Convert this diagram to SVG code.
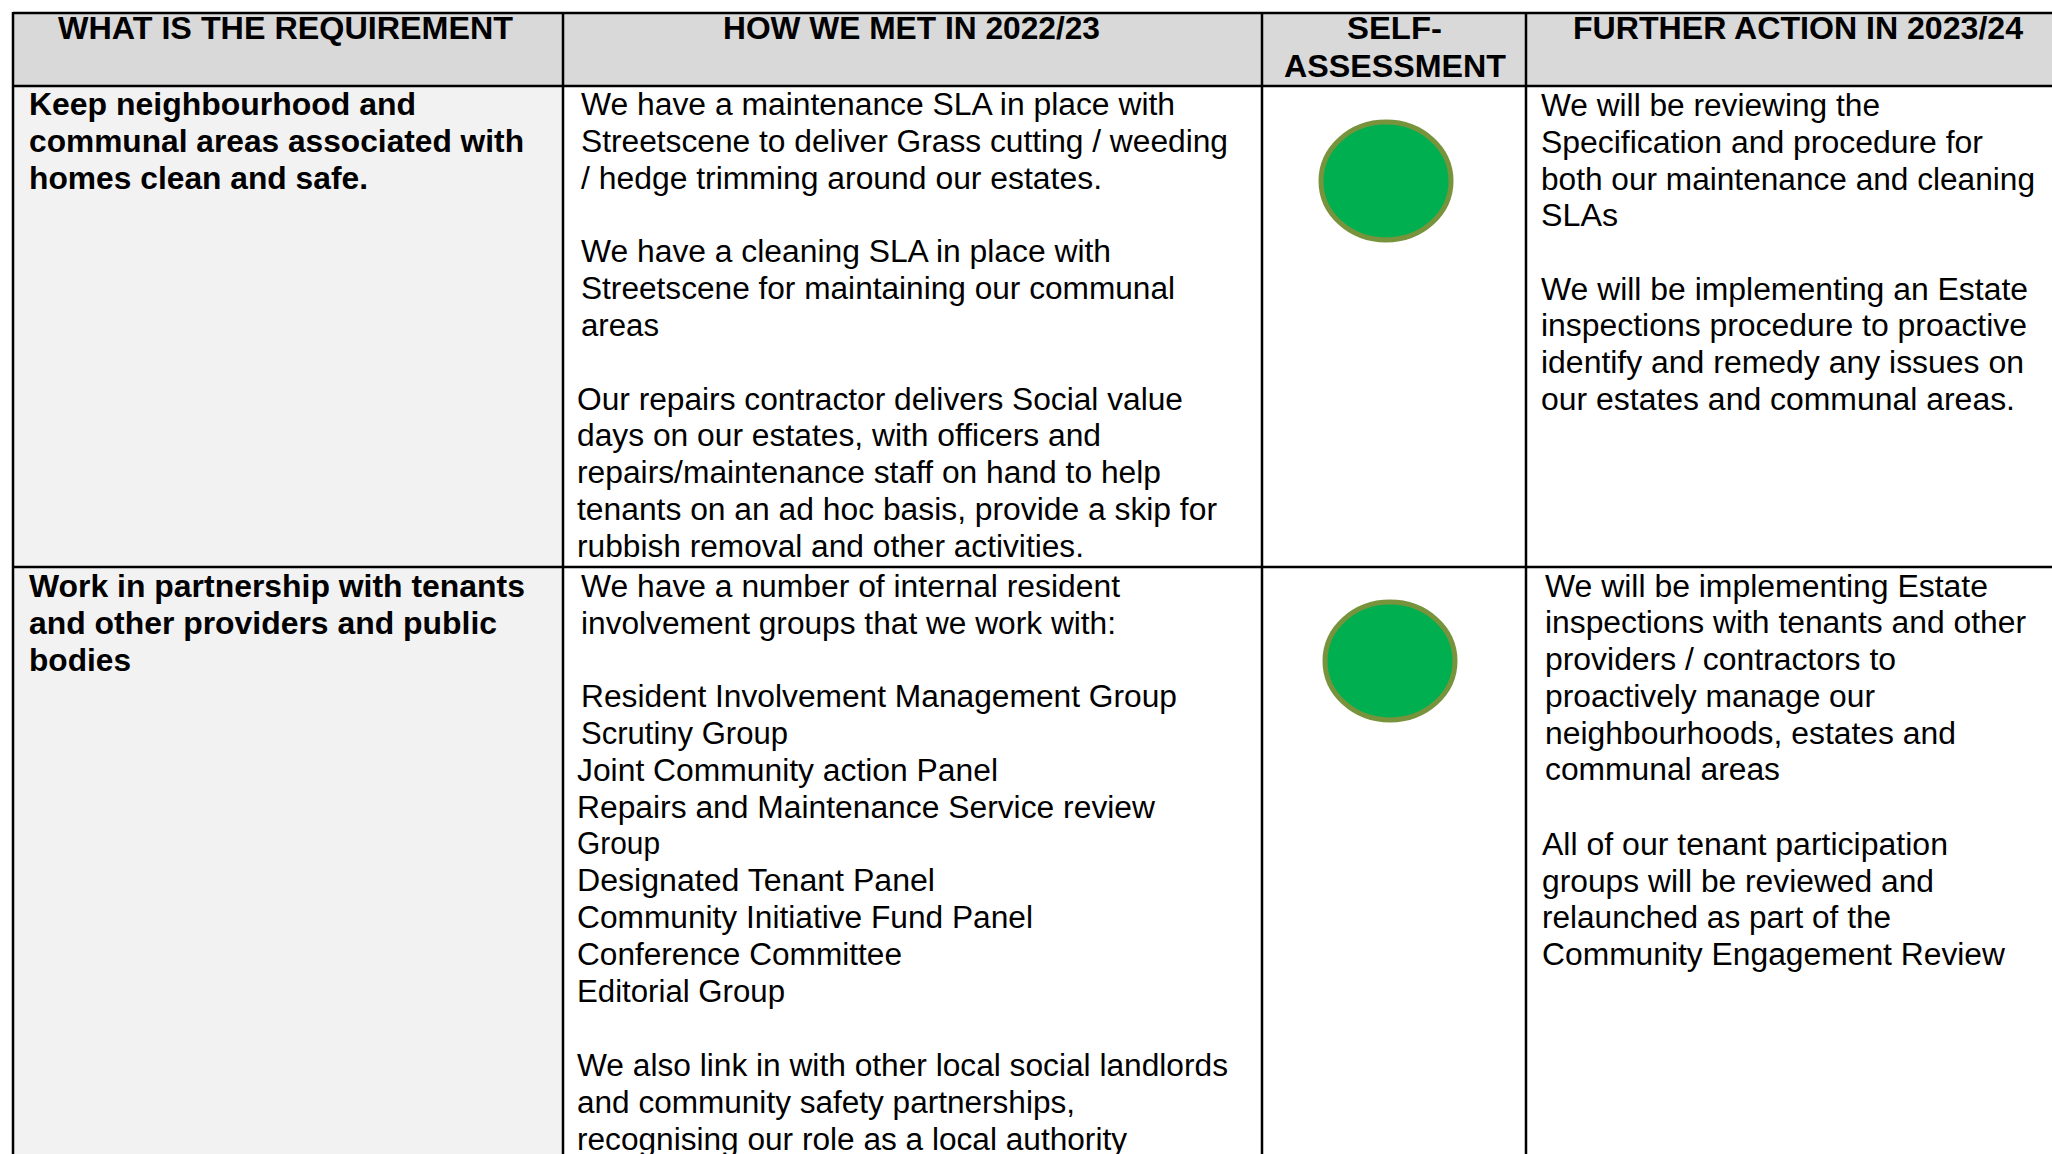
<svg xmlns="http://www.w3.org/2000/svg" width="2052" height="1154" viewBox="0 0 2052 1154">
<style>
text{font-family:"Liberation Sans",Arial,sans-serif;font-size:31px;fill:#000}
.b{font-weight:bold}
.hd{fill:#d9d9d9}
.c1{fill:#f2f2f2}
.ln{stroke:#000;stroke-width:2.5;fill:none}
.dot{fill:#00b050;stroke:#77933c;stroke-width:5}
</style>
<rect width="2052" height="1154" fill="#fff"/>
<g id="header">
<rect class="hd" x="13" y="13" width="2050" height="73"/>
<text class="b" x="58" y="39" textLength="455" lengthAdjust="spacingAndGlyphs">WHAT IS THE REQUIREMENT</text>
<text class="b" x="723" y="39" textLength="377" lengthAdjust="spacingAndGlyphs">HOW WE MET IN 2022/23</text>
<text class="b" x="1347" y="39" textLength="95" lengthAdjust="spacingAndGlyphs">SELF-</text>
<text class="b" x="1284" y="77" textLength="222" lengthAdjust="spacingAndGlyphs">ASSESSMENT</text>
<text class="b" x="1573" y="39" textLength="450" lengthAdjust="spacingAndGlyphs">FURTHER ACTION IN 2023/24</text>
</g>
<g id="col1-bg"><rect class="c1" x="13" y="86" width="550" height="1080"/></g>
<g id="row1">
<g id="row1-requirement">
<text class="b" x="29" y="115" textLength="387" lengthAdjust="spacingAndGlyphs">Keep neighbourhood and</text>
<text class="b" x="29" y="152" textLength="495" lengthAdjust="spacingAndGlyphs">communal areas associated with</text>
<text class="b" x="29" y="189" textLength="339" lengthAdjust="spacingAndGlyphs">homes clean and safe.</text>
</g>
<g id="row1-how">
<text x="581" y="115" textLength="594" lengthAdjust="spacingAndGlyphs">We have a maintenance SLA in place with</text>
<text x="581" y="152" textLength="647" lengthAdjust="spacingAndGlyphs">Streetscene to deliver Grass cutting / weeding</text>
<text x="581" y="189" textLength="521" lengthAdjust="spacingAndGlyphs">/ hedge trimming around our estates.</text>
<text x="581" y="262" textLength="530" lengthAdjust="spacingAndGlyphs">We have a cleaning SLA in place with</text>
<text x="581" y="299" textLength="594" lengthAdjust="spacingAndGlyphs">Streetscene for maintaining our communal</text>
<text x="581" y="336" textLength="78" lengthAdjust="spacingAndGlyphs">areas</text>
<text x="577" y="410" textLength="606" lengthAdjust="spacingAndGlyphs">Our repairs contractor delivers Social value</text>
<text x="577" y="446" textLength="524" lengthAdjust="spacingAndGlyphs">days on our estates, with officers and</text>
<text x="577" y="483" textLength="584" lengthAdjust="spacingAndGlyphs">repairs/maintenance staff on hand to help</text>
<text x="577" y="520" textLength="640" lengthAdjust="spacingAndGlyphs">tenants on an ad hoc basis, provide a skip for</text>
<text x="577" y="557" textLength="507" lengthAdjust="spacingAndGlyphs">rubbish removal and other activities.</text>
</g>
<g id="row1-assessment"><ellipse class="dot" cx="1386" cy="181" rx="65" ry="59"/></g>
<g id="row1-further">
<text x="1541" y="116" textLength="339" lengthAdjust="spacingAndGlyphs">We will be reviewing the</text>
<text x="1541" y="153" textLength="442" lengthAdjust="spacingAndGlyphs">Specification and procedure for</text>
<text x="1541" y="190" textLength="494" lengthAdjust="spacingAndGlyphs">both our maintenance and cleaning</text>
<text x="1541" y="226" textLength="77" lengthAdjust="spacingAndGlyphs">SLAs</text>
<text x="1541" y="300" textLength="487" lengthAdjust="spacingAndGlyphs">We will be implementing an Estate</text>
<text x="1541" y="336" textLength="486" lengthAdjust="spacingAndGlyphs">inspections procedure to proactive</text>
<text x="1541" y="373" textLength="483" lengthAdjust="spacingAndGlyphs">identify and remedy any issues on</text>
<text x="1541" y="410" textLength="474" lengthAdjust="spacingAndGlyphs">our estates and communal areas.</text>
</g>
</g>
<g id="row2">
<g id="row2-requirement">
<text class="b" x="29" y="597" textLength="496" lengthAdjust="spacingAndGlyphs">Work in partnership with tenants</text>
<text class="b" x="29" y="634" textLength="468" lengthAdjust="spacingAndGlyphs">and other providers and public</text>
<text class="b" x="29" y="671" textLength="102" lengthAdjust="spacingAndGlyphs">bodies</text>
</g>
<g id="row2-how">
<text x="581" y="597" textLength="539" lengthAdjust="spacingAndGlyphs">We have a number of internal resident</text>
<text x="581" y="634" textLength="535" lengthAdjust="spacingAndGlyphs">involvement groups that we work with:</text>
<text x="581" y="707" textLength="596" lengthAdjust="spacingAndGlyphs">Resident Involvement Management Group</text>
<text x="581" y="744" textLength="207" lengthAdjust="spacingAndGlyphs">Scrutiny Group</text>
<text x="577" y="781" textLength="421" lengthAdjust="spacingAndGlyphs">Joint Community action Panel</text>
<text x="577" y="818" textLength="578" lengthAdjust="spacingAndGlyphs">Repairs and Maintenance Service review</text>
<text x="577" y="854" textLength="83" lengthAdjust="spacingAndGlyphs">Group</text>
<text x="577" y="891" textLength="358" lengthAdjust="spacingAndGlyphs">Designated Tenant Panel</text>
<text x="577" y="928" textLength="456" lengthAdjust="spacingAndGlyphs">Community Initiative Fund Panel</text>
<text x="577" y="965" textLength="325" lengthAdjust="spacingAndGlyphs">Conference Committee</text>
<text x="577" y="1002" textLength="208" lengthAdjust="spacingAndGlyphs">Editorial Group</text>
<text x="577" y="1076" textLength="651" lengthAdjust="spacingAndGlyphs">We also link in with other local social landlords</text>
<text x="577" y="1113" textLength="498" lengthAdjust="spacingAndGlyphs">and community safety partnerships,</text>
<text x="577" y="1150" textLength="550" lengthAdjust="spacingAndGlyphs">recognising our role as a local authority</text>
</g>
<g id="row2-assessment"><ellipse class="dot" cx="1390" cy="661" rx="65" ry="59"/></g>
<g id="row2-further">
<text x="1545" y="597" textLength="443" lengthAdjust="spacingAndGlyphs">We will be implementing Estate</text>
<text x="1545" y="633" textLength="481" lengthAdjust="spacingAndGlyphs">inspections with tenants and other</text>
<text x="1545" y="670" textLength="351" lengthAdjust="spacingAndGlyphs">providers / contractors to</text>
<text x="1545" y="707" textLength="330" lengthAdjust="spacingAndGlyphs">proactively manage our</text>
<text x="1545" y="744" textLength="411" lengthAdjust="spacingAndGlyphs">neighbourhoods, estates and</text>
<text x="1545" y="780" textLength="235" lengthAdjust="spacingAndGlyphs">communal areas</text>
<text x="1542" y="855" textLength="406" lengthAdjust="spacingAndGlyphs">All of our tenant participation</text>
<text x="1542" y="892" textLength="392" lengthAdjust="spacingAndGlyphs">groups will be reviewed and</text>
<text x="1542" y="928" textLength="349" lengthAdjust="spacingAndGlyphs">relaunched as part of the</text>
<text x="1542" y="965" textLength="463" lengthAdjust="spacingAndGlyphs">Community Engagement Review</text>
</g>
</g>
<g id="grid" class="ln">
<line x1="13" y1="13" x2="2060" y2="13"/>
<line x1="13" y1="86" x2="2060" y2="86"/>
<line x1="13" y1="567" x2="2060" y2="567"/>
<line x1="13" y1="12" x2="13" y2="1160"/>
<line x1="563" y1="12" x2="563" y2="1160"/>
<line x1="1262" y1="12" x2="1262" y2="1160"/>
<line x1="1526" y1="12" x2="1526" y2="1160"/>
</g>
</svg>
